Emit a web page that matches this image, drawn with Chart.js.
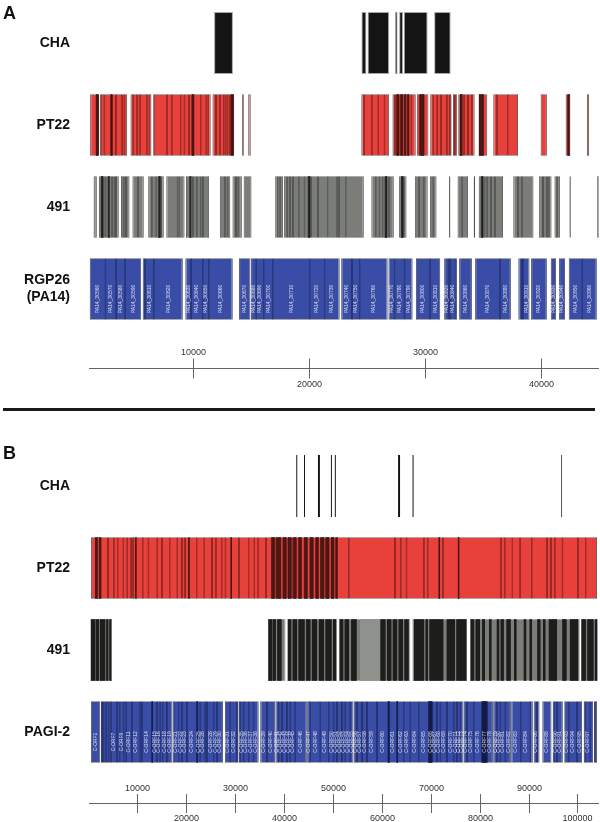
<!DOCTYPE html>
<html><head><meta charset="utf-8">
<script src="https://cdn.jsdelivr.net/npm/chart.js@4.4.0/dist/chart.umd.min.js"></script>
<style>
html,body{margin:0;padding:0;background:#fff;width:600px;height:822px;overflow:hidden;font-family:"Liberation Sans",Arial,sans-serif}
#wa{position:absolute;left:0;top:0;width:600px;height:410px}
#wb{position:absolute;left:0;top:420px;width:600px;height:402px}
.pl{position:absolute;left:3px;font-weight:bold;font-size:18px;line-height:18px;color:#111}
#sep{position:absolute;left:3px;top:408px;width:592px;height:3px;background:#1a1a1a}
</style></head><body>
<div id="wa"><canvas id="ca" width="600" height="410"></canvas></div>
<div id="wb"><canvas id="cb" width="600" height="402"></canvas></div>
<div class="pl" style="top:4px">A</div>
<div class="pl" style="top:444px">B</div>
<div id="sep"></div>
<script>
// ---------- DATA ----------
const tracksA = ['CHA', 'PT22', '491', 'RGP26 (PA14)'];
const tracksB = ['CHA', 'PT22', '491', 'PAGI-2'];
const ticksA = [10000, 20000, 30000, 40000];
const ticksB = [10000, 20000, 30000, 40000, 50000, 60000, 70000, 80000, 90000, 100000];

// Panel A
const chaA = [[11792,13418],[24503,24935],[25034,26893],[27391,27624],[27757,28089],[28155,30213],[30777,32204]];
const pt22AGroups = [[1104,1868],[1967,4291],[4589,6381],[6547,11493],[11659,13518],[14215,14348],[14746,14945],[24503,26893],[27192,29184],[29283,30279],[30445,32270],[32403,32736],[32868,34262],[34660,35357],[35888,38012],[39970,40501],[42128,42526],[43953,44152]];
const pt22ACuts = [1635,1768,2067,2332,2897,2996,3328,3859,4058,4821,5153,5419,5983,6215,6647,7742,8140,8904,9235,9634,9899,10032,10630,11128,11294,11958,12290,12621,12787,12953,13152,13285,13418,24735,25399,25963,26494,27391,27557,27723,27889,28055,28221,28487,28819,29549,29881,30710,31042,31374,31872,32137,32569,33034,33366,33698,34030,35025,36187,37116,42327];
const pt22ADark = [[1635,1768],[2897,2996],[9899,10032],[13285,13418],[27557,27723],[27889,28055],[28221,28350],[28487,28600],[29549,29881],[33034,33200],[34660,35025],[42327,42450]];
const g491AGroups = [[1403,1669],[1868,3561],[3760,4490],[4755,5718],[6114,7444],[7677,9237],[9369,11360],[12289,13186],[13385,14182],[14348,15011],[17069,17733],[17833,24703],[25367,27291],[27756,28387],[29117,30213],[30412,30976],[32074,32173],[32804,33697],[34195,34294],[34627,36718],[37614,39341],[39837,40899],[41165,41629],[42459,42559],[44850,45050]];
const g491ACuts = [2067,2266,2432,2664,2996,3195,3328,3992,4191,5220,6414,6813,7012,7212,8639,8805,9701,9966,10298,10630,10829,12721,12953,13684,13883,17268,17501,18099,18331,18596,19094,19592,19923,20156,20753,21583,22412,22578,23143,25732,26064,26330,26561,26893,27955,28155,29482,29881,30710,33199,34859,35125,35357,35689,36021,38013,38345,40169,40501,40667,41397];
const g491ADark = [[2067,2200],[2664,2760],[7012,7150],[9701,9800],[19923,20050],[26561,26700],[27955,28100],[34859,34990]];
const rgpAGroups = [[1069,5500],[5637,9086],[9318,13395],[13947,14921],[14982,22619],[22766,26757],[26843,28911],[29204,31299],[31644,32739],[32937,34032],[34316,37394],[38049,38997],[39144,40497],[40842,41299],[41557,42074],[42393,44807]];
const rgpACuts = [2422,3345,4120,5844,6586,9810,10809,11327,15439,16068,16844,20033,21326,23688,24343,27360,28222,30437,32015,32161,32618,36471,38342,38480,43565];
const rgpALabels = ['PA14_30560','PA14_30570','PA14_30580','PA14_30590','PA14_30600','PA14_30610','PA14_30620','PA14_30630','PA14_30640','PA14_30650','PA14_30660','PA14_30670','PA14_30680','PA14_30690','PA14_30700','PA14_30710','PA14_30720','PA14_30730','PA14_30740','PA14_30750','PA14_30760','PA14_30770','PA14_30780','PA14_30790','PA14_30800','PA14_30810','PA14_30820','PA14_30830','PA14_30840','PA14_30850','PA14_30860','PA14_30870','PA14_30880','PA14_30890','PA14_30900','PA14_30910','PA14_30920','PA14_30930','PA14_30940','PA14_30950','PA14_30960'];

// Panel B
const chaB = [[42550,42750],[44130,44330],[46980,47380],[49630,49830],[50430,50630],[63350,63750],[66310,66510],[96700,96850]];
const pt22BGroups = [[625,104000]];
const pt22BCuts = [4087,5267,6054,7235,8021,8808,9202,9753,11170,12350,14160,15104,16678,18252,19196,19826,20613,22187,23760,25334,26121,27301,28088,29268,30842,32809,33989,34776,36350,37530,37924,38317,38868,39340,39891,40442,40914,41465,41858,42488,43039,43590,44219,44770,45399,45950,46580,47052,47524,48154,48626,49177,49727,50200,50672,50908,53268,62711,63891,65071,68612,69401,71761,72548,75695,84351,85138,86712,88286,90647,93794,94581,95368,96942,100089,101663];
const pt22BDark = [[1490,1950],[2280,2671],[9700,9850],[20550,20700],[29200,29350],[37530,38100],[38500,39340],[39891,40442],[40914,41465],[42000,42488],[43039,43590],[44219,44770],[45399,45950],[46580,47052],[47524,48154],[48626,49177],[49727,50200],[50672,50908],[71700,71850],[75650,75800]];
const g491BGroups = [[625,4874],[36743,40363],[40678,50829],[51223,65859],[66252,77426],[78056,100482],[100718,104050]];
const g491BLight = [[55629,59564]];
const g491BDark = [[625,1412],[1648,2199],[2513,3458],[3773,4087],[4402,4717],[36900,37530],[37766,38317],[38711,39498],[40914,41465],[41858,42645],[43039,44219],[44613,45399],[45793,46737],[47210,48154],[48547,49727],[50121,50672],[51460,52089],[52482,53268],[53819,54842],[59800,60744],[61137,61924],[62317,63104],[63498,64285],[64678,65465],[66646,68612],[69006,69399],[69793,72547],[73334,74908],[75301,77268],[78213,78843],[79236,80023],[80574,81046],[81990,82384],[83564,83957],[84351,84902],[85531,86318],[87105,87498],[89079,89472],[90260,90653],[91834,92385],[93013,93407],[94187,95761],[96942,97729],[98516,100089],[100876,101663],[102057,103237],[103631,104000]];
const pagiGroups = [[585,2494],[2631,17240],[17310,27566],[27975,30730],[30800,34852],[35198,38230],[38300,44700],[44780,54230],[54310,76710],[76790,82720],[82800,86400],[86480,90862],[91066,92224],[92838,94677],[94950,96993],[97334,100945],[101285,103193],[103398,104011]];
const pagiCuts = [2834,3174,3719,4196,4741,5900,6445,7262,7807,8965,10669,11009,13053,14075,14756,15233,16119,17481,18503,19185,20207,22251,22932,23954,24295,25657,26339,29064,30427,31108,31790,32812,33834,36559,38943,39625,40647,41328,42350,45418,47462,49165,50187,50867,51890,52571,53594,54956,55978,57000,59044,61428,63132,64494,65857,67560,69604,70285,71307,71989,73351,74714,75395,76076,77439,78802,80505,81527,83571,84252,85274,88400,90384,91747,95153,95834,97537,98218,99921,101624,102646,103668];
const pagiDark = [[13053,13200],[22251,22400],[61300,61560],[63132,63280],[69604,70285],[80505,81527]];
const pagiLabels = ['C-ORF1','C-ORF2','C-ORF3','C-ORF4','C-ORF5','C-ORF6','C-ORF7','C-ORF8','C-ORF9','C-ORF10','C-ORF11','C-ORF12','C-ORF13','C-ORF14','C-ORF15','C-ORF16','C-ORF17','C-ORF18','C-ORF19','C-ORF20','C-ORF21','C-ORF22','C-ORF23','C-ORF24','C-ORF25','C-ORF26','C-ORF27','C-ORF28','C-ORF29','C-ORF30','C-ORF31','C-ORF32','C-ORF33','C-ORF34','C-ORF35','C-ORF36','C-ORF37','C-ORF38','C-ORF39','C-ORF40','C-ORF41','C-ORF42','C-ORF43','C-ORF44','C-ORF45','C-ORF46','C-ORF47','C-ORF48','C-ORF49','C-ORF50','C-ORF51','C-ORF52','C-ORF53','C-ORF54','C-ORF55','C-ORF56','C-ORF57','C-ORF58','C-ORF59','C-ORF60','C-ORF61','C-ORF62','C-ORF63','C-ORF64','C-ORF65','C-ORF66','C-ORF67','C-ORF68','C-ORF69','C-ORF70','C-ORF71','C-ORF72','C-ORF73','C-ORF74','C-ORF75','C-ORF76','C-ORF77','C-ORF78','C-ORF79','C-ORF80','C-ORF81','C-ORF82','C-ORF83','C-ORF84','C-ORF85','C-ORF86','C-ORF87','C-ORF88','C-ORF89','C-ORF90','C-ORF91','C-ORF92','C-ORF93','C-ORF94','C-ORF95','C-ORF96','C-ORF97','C-ORF98','C-ORF99','C-ORF100'];

// ---------- BUILD ----------
const FONT = '"Liberation Sans", Arial, sans-serif';
const GROUP_BORDER = '#a9a9a9';
const COL = {
  black: '#141414',
  red: '#e8403a', redLine: 'rgba(70,20,18,0.9)', redDark: '#4b1a17',
  gray: '#7b7d78', grayLine: '#3b3c3a', grayDark: '#1d1d1b', grayLight: '#8f918c',
  blue: '#3a4da6', blueLine: '#1a2456', blueDark: '#111a40'
};

function splitGenes(groups, cuts) {
  const out = [];
  groups.forEach(([s, e]) => {
    let a = s;
    cuts.filter(c => c > s && c < e).forEach(c => { out.push([a, c]); a = c; });
    out.push([a, e]);
  });
  return out;
}
function pts(row, segs) { return segs.map(s => ({x: [s[0], s[1]], y: row})); }
function groupDs(row, segs, color, border) {
  return {data: pts(row, segs), backgroundColor: color, borderColor: GROUP_BORDER,
    borderWidth: border === false ? 0 : 1, barThickness: 62, order: 5, inflateAmount: 0};
}
function fillDs(row, segs, color) {
  return {data: pts(row, segs), backgroundColor: color, borderWidth: 0, barThickness: 61, order: 3};
}
function geneDs(row, segs, line, labels, labelFont, minW) {
  const d = {data: pts(row, segs), backgroundColor: 'rgba(0,0,0,0)', borderColor: line,
    borderWidth: {left: 0.6, right: 0.6, top: 0, bottom: 0}, barThickness: 61, order: 2, inflateAmount: 0};
  if (labels) { d.geneLabels = labels; d.labelFont = labelFont; d.minW = minW; }
  return d;
}

const axisPlugin = {
  id: 'genomeAxis',
  afterDraw(chart, args, o) {
    const xs = chart.scales.x, ctx = chart.ctx, ca = chart.chartArea;
    const y = Math.round(ca.bottom + o.offset) + 0.5;
    ctx.save();
    ctx.strokeStyle = '#666'; ctx.lineWidth = 1;
    ctx.beginPath(); ctx.moveTo(ca.left, y); ctx.lineTo(ca.right, y); ctx.stroke();
    ctx.font = '9px ' + FONT; ctx.fillStyle = '#333'; ctx.textAlign = 'center'; ctx.textBaseline = 'middle';
    o.values.forEach((v, i) => {
      const x = Math.round(xs.getPixelForValue(v)) + 0.5;
      ctx.beginPath(); ctx.moveTo(x, y - o.tick); ctx.lineTo(x, y + o.tick); ctx.stroke();
      ctx.fillText(String(v), x, i % 2 === 0 ? y - o.labUp : y + o.labDown);
    });
    ctx.restore();
  }
};
const labelPlugin = {
  id: 'geneLabels',
  afterDatasetsDraw(chart) {
    const ctx = chart.ctx;
    chart.data.datasets.forEach((d, i) => {
      if (!d.geneLabels) return;
      const meta = chart.getDatasetMeta(i);
      ctx.save();
      ctx.fillStyle = 'rgba(255,255,255,0.8)'; ctx.font = d.labelFont;
      ctx.textAlign = 'center'; ctx.textBaseline = 'middle';
      meta.data.forEach((el, j) => {
        const p = el.getProps(['x', 'base', 'y'], true);
        const w = Math.abs(p.x - p.base);
        const t = d.geneLabels[j];
        if (!t || w < d.minW) return;
        ctx.save();
        ctx.translate((p.x + p.base) / 2, p.y + 10);
        ctx.rotate(-Math.PI / 2);
        ctx.fillText(t, 0, 0);
        ctx.restore();
      });
      ctx.restore();
    });
  }
};

function makeChart(id, labels, datasets, xmin, xmax, pad, axisOpts) {
  return new Chart(document.getElementById(id), {
    type: 'bar',
    data: {labels: labels, datasets: datasets},
    plugins: [labelPlugin, axisPlugin],
    options: {
      indexAxis: 'y', responsive: false, animation: false, devicePixelRatio: 1,
      layout: {padding: pad},
      datasets: {bar: {grouped: false, borderSkipped: false}},
      scales: {
        x: {type: 'linear', min: xmin, max: xmax, display: false},
        y: {type: 'category', offset: true,
          grid: {display: false, drawTicks: false}, border: {display: false},
          afterFit: s => { s.width = 89; s.paddingTop = 0; s.paddingBottom = 0; },
          ticks: {crossAlign: 'near', padding: 19, color: '#111',
            callback: function (v) { return this.getLabelForValue(v).split(' '); },
            font: {family: FONT, size: 14, weight: 'bold', lineHeight: 1.2}}}
      },
      plugins: {legend: {display: false}, tooltip: {enabled: false}, genomeAxis: axisOpts}
    }
  });
}

const A = tracksA, B = tracksB;
const dsA = [
  groupDs(A[0], chaA, COL.black),
  groupDs(A[1], pt22AGroups, COL.red), fillDs(A[1], pt22ADark, COL.redDark), geneDs(A[1], splitGenes(pt22AGroups, pt22ACuts), COL.redLine),
  groupDs(A[2], g491AGroups, COL.gray), fillDs(A[2], g491ADark, COL.grayDark), geneDs(A[2], splitGenes(g491AGroups, g491ACuts), COL.grayLine),
  groupDs(A[3], rgpAGroups, COL.blue), geneDs(A[3], splitGenes(rgpAGroups, rgpACuts), COL.blueLine, rgpALabels, '5px ' + FONT, 4)
];
makeChart('ca', tracksA, dsA, 1000, 45000, {top: 2, bottom: 80, left: 0, right: 1},
  {values: ticksA, offset: 38, tick: 10, labUp: 16, labDown: 16});

const dsB = [
  groupDs(B[0], chaB, COL.black, false),
  groupDs(B[1], pt22BGroups, COL.red), fillDs(B[1], pt22BDark, COL.redDark), geneDs(B[1], splitGenes(pt22BGroups, pt22BCuts), COL.redLine),
  groupDs(B[2], g491BGroups, COL.gray), fillDs(B[2], g491BLight, COL.grayLight), fillDs(B[2], g491BDark, COL.grayDark),
  groupDs(B[3], pagiGroups, COL.blue), fillDs(B[3], pagiDark, COL.blueDark), geneDs(B[3], splitGenes(pagiGroups, pagiCuts), COL.blueLine, pagiLabels, '5px ' + FONT, 3)
];
makeChart('cb', tracksB, dsB, 200, 104400, {top: 25, bottom: 49, left: 0, right: 1},
  {values: ticksB, offset: 30, tick: 9.5, labUp: 15, labDown: 15});
</script>
</body></html>
